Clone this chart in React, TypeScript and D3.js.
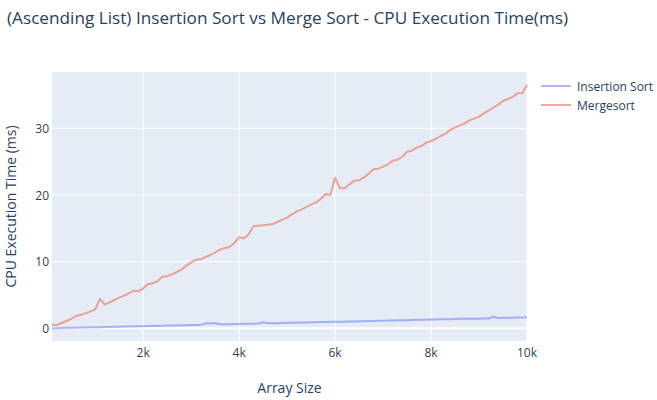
import * as d3 from "d3";

const sizes = d3.range(100, 10001, 100);

const insertionSort = [
  0.02, 0.03, 0.05, 0.07, 0.08, 0.1, 0.11, 0.13, 0.15, 0.16,
  0.18, 0.19, 0.21, 0.23, 0.24, 0.26, 0.28, 0.29, 0.31, 0.33,
  0.34, 0.36, 0.37, 0.39, 0.41, 0.42, 0.44, 0.46, 0.47, 0.49,
  0.5, 0.52, 0.75, 0.72, 0.8, 0.62, 0.6, 0.62, 0.64, 0.66,
  0.68, 0.69, 0.7, 0.72, 0.92, 0.75, 0.77, 0.78, 0.8, 0.82,
  0.84, 0.86, 0.87, 0.89, 0.9, 0.92, 0.94, 0.96, 0.97, 0.99,
  1.0, 1.0, 1.02, 1.04, 1.06, 1.08, 1.09, 1.11, 1.13, 1.14,
  1.16, 1.18, 1.2, 1.21, 1.23, 1.25, 1.27, 1.28, 1.3, 1.32,
  1.33, 1.35, 1.37, 1.38, 1.4, 1.42, 1.44, 1.44, 1.44, 1.45,
  1.46, 1.48, 1.75, 1.55, 1.57, 1.58, 1.6, 1.61, 1.63, 1.65,
];

const mergeSort = [
  0.5, 0.5, 0.8, 1.1, 1.4, 1.85, 2.05, 2.25, 2.55, 2.85,
  4.4, 3.55, 3.9, 4.25, 4.6, 4.9, 5.25, 5.65, 5.55, 6.0,
  6.6, 6.75, 7.1, 7.75, 7.8, 8.1, 8.45, 8.85, 9.4, 9.9,
  10.3, 10.35, 10.7, 11.0, 11.4, 11.8, 12.05, 12.2, 12.8, 13.65,
  13.5, 14.1, 15.3, 15.4, 15.45, 15.55, 15.65, 15.95, 16.3, 16.6,
  17.1, 17.55, 17.8, 18.2, 18.6, 18.85, 19.4, 20.15, 20.0, 22.6,
  21.0, 21.0, 21.6, 22.15, 22.2, 22.65, 23.2, 23.85, 23.95, 24.25,
  24.6, 25.15, 25.3, 25.7, 26.5, 26.65, 27.1, 27.35, 27.85, 28.1,
  28.45, 28.85, 29.2, 29.75, 30.1, 30.45, 30.75, 31.2, 31.45, 31.75,
  32.25, 32.7, 33.1, 33.55, 34.1, 34.4, 34.7, 35.25, 35.25, 36.5,
];

const seriesNames = ["Insertion Sort", "Mergesort"];
const seriesColors = ["#636efa", "#ef553b"];
const xTicks = [2000, 4000, 6000, 8000, 10000];
const yTicks = [0, 10, 20, 30];

export default function App() {
  const width = 657;
  const height = 400;
  const marginLeft = 52;
  const marginRight = 130;
  const marginTop = 72;
  const marginBottom = 59;

  const x = d3
    .scaleLinear()
    .domain([100, 10000])
    .range([marginLeft, width - marginRight]);

  const y = d3
    .scaleLinear()
    .domain([-1.9, 38.45])
    .range([height - marginBottom, marginTop]);

  const series = [insertionSort, mergeSort].map((vals, i) => ({
    name: seriesNames[i],
    color: seriesColors[i],
    points: vals.map((v, j) => ({ size: sizes[j], value: v })),
  }));

  const line = d3
    .line<{ size: number; value: number }>()
    .x((d) => x(d.size))
    .y((d) => y(d.value));

  const font = "'Open Sans', sans-serif";
  const textColor = "#2a3f5f";

  return (
    <svg
      width={width}
      height={height}
      style={{ position: "absolute", left: 0, top: 0, background: "white" }}
      fontFamily={font}
    >
      <rect
        x={marginLeft}
        y={marginTop}
        width={width - marginLeft - marginRight}
        height={height - marginTop - marginBottom}
        fill="#e5ecf6"
      />
      {/* grid */}
      {xTicks.map((t) => (
        <line
          key={"gx" + t}
          x1={x(t)}
          x2={x(t)}
          y1={marginTop}
          y2={height - marginBottom}
          stroke="white"
          strokeWidth={1}
        />
      ))}
      {yTicks.map((t) => (
        <line
          key={"gy" + t}
          x1={marginLeft}
          x2={width - marginRight}
          y1={y(t)}
          y2={y(t)}
          stroke="white"
          strokeWidth={t === 0 ? 2 : 1}
        />
      ))}
      {/* lines */}
      {series.map((s) => (
        <path
          key={s.name}
          d={line(s.points) ?? ""}
          fill="none"
          stroke={s.color}
          strokeWidth={2}
          strokeOpacity={0.5}
          strokeLinejoin="round"
        />
      ))}
      {/* x tick labels */}
      {xTicks.map((t) => (
        <text
          key={"tx" + t}
          x={x(t)}
          y={height - marginBottom + 11}
          textAnchor="middle"
          dominantBaseline="central"
          fontSize={12}
          fill={textColor}
        >
          {d3.format("~s")(t)}
        </text>
      ))}
      {/* y tick labels */}
      {yTicks.map((t) => (
        <text
          key={"ty" + t}
          x={marginLeft - 3}
          y={y(t)}
          textAnchor="end"
          dominantBaseline="central"
          fontSize={12}
          fill={textColor}
        >
          {t}
        </text>
      ))}
      {/* axis titles */}
      <text
        x={(marginLeft + width - marginRight) / 2}
        y={387}
        textAnchor="middle"
        dominantBaseline="central"
        fontSize={14}
        fill={textColor}
      >
        Array Size
      </text>
      <text
        transform={`translate(10,${(marginTop + height - marginBottom) / 2}) rotate(-90)`}
        textAnchor="middle"
        dominantBaseline="central"
        fontSize={14}
        fill={textColor}
      >
        CPU Execution Time (ms)
      </text>
      {/* title */}
      <text
        x={7}
        y={17.5}
        dominantBaseline="central"
        fontSize={17.2}
        fill={textColor}
      >
        (Ascending List) Insertion Sort vs Merge Sort - CPU Execution Time(ms)
      </text>
      {/* legend */}
      {series.map((s, i) => (
        <g key={"lg" + s.name} transform={`translate(541,${86 + i * 19})`}>
          <line
            x1={0}
            x2={30}
            y1={0}
            y2={0}
            stroke={s.color}
            strokeWidth={2}
            strokeOpacity={0.5}
          />
          <text
            x={36}
            y={0}
            dominantBaseline="central"
            fontSize={12}
            fill={textColor}
          >
            {s.name}
          </text>
        </g>
      ))}
    </svg>
  );
}
